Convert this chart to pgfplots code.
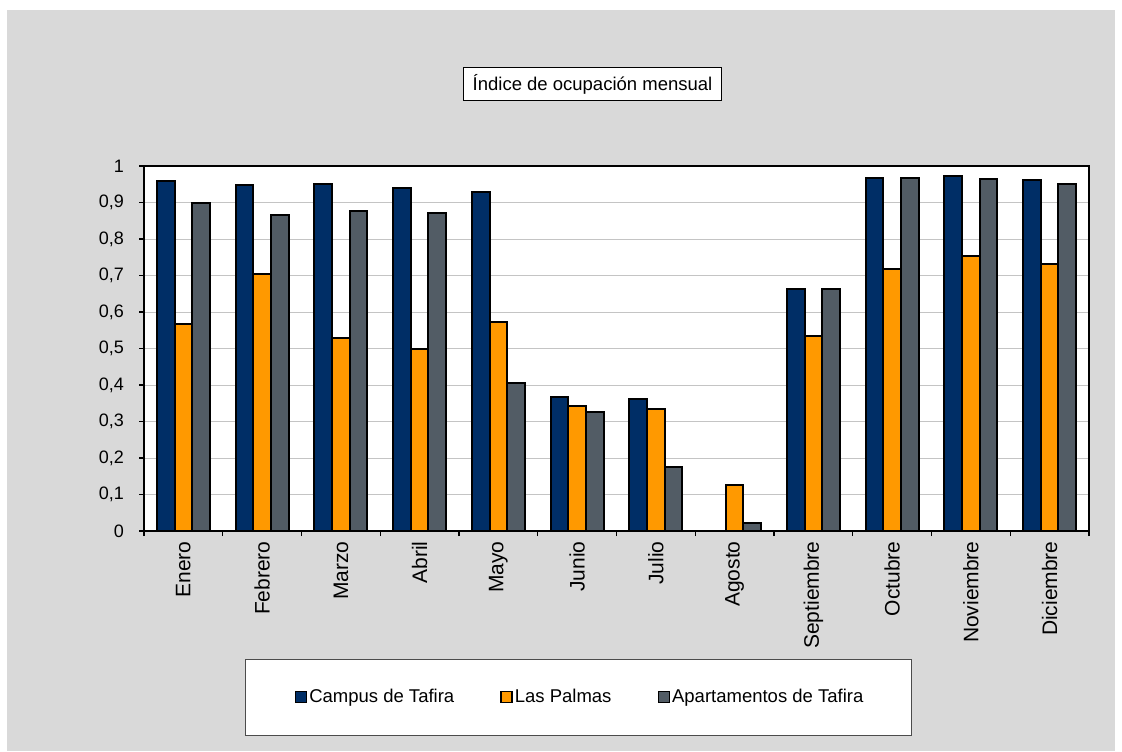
\documentclass[border=0pt]{standalone}
\usepackage{fontspec}
\setmainfont{Liberation Sans}
\usepackage{pgfplots}
\usepackage{pgfplotstable}
\pgfplotsset{compat=1.18}
\definecolor{cBlue}{RGB}{0,46,102}
\definecolor{cOrange}{RGB}{255,153,0}
\definecolor{cGray}{RGB}{82,92,101}
\definecolor{bgGray}{RGB}{217,217,217}
\definecolor{gridGray}{RGB}{196,196,196}
\pgfplotstableread{
idx campus laspalmas apart
0  0.959 0.568 0.898
1  0.948 0.703 0.866
2  0.951 0.528 0.877
3  0.939 0.499 0.872
4  0.928 0.573 0.406
5  0.366 0.342 0.325
6  0.361 0.335 0.175
7  0.000 0.127 0.023
8  0.662 0.535 0.664
9  0.966 0.718 0.966
10 0.973 0.753 0.964
11 0.962 0.731 0.951
}\datatable
\begin{document}
\begin{tikzpicture}[x=1pt,y=1pt]
\fill[white] (0,0) rectangle (561,375.5);
\fill[bgGray] (3.5,0) rectangle (557.5,370.5);
\node[draw=black, line width=0.5pt, fill=white, font=\fontsize{9.25}{11}\selectfont, inner xsep=4.5pt, minimum height=15pt] at (296.25,333.5) {Índice de ocupación mensual};
\filldraw[fill=white, draw=black!70, line width=0.5pt] (122.5,8) rectangle (455.5,46);
\begin{axis}[
  at={(72pt,110pt)}, anchor=south west,
  scale only axis, width=472.5pt, height=182.5pt,
  ybar=0pt, bar width=8.8pt,
  xmin=-0.5, xmax=11.5, ymin=0, ymax=1,
  axis background/.style={fill=white},
  xtick={0,...,11},
  xticklabels={Enero,Febrero,Marzo,Abril,Mayo,Junio,Julio,Agosto,Septiembre,Octubre,Noviembre,Diciembre},
  x tick label style={rotate=90, anchor=east, font=\fontsize{10.5}{12}\selectfont, inner sep=0pt, xshift=-2.5pt},
  xtick style={draw=none},
  extra x ticks={-0.5,0.5,...,11.5},
  extra x tick labels={},
  extra x tick style={xtick style={draw=black, line width=0.6pt}},
  xtick pos=bottom, ytick pos=left,
  ytick={0,0.1,0.2,0.3,0.4,0.5,0.6,0.7,0.8,0.9,1},
  y tick label style={font=\fontsize{9}{10}\selectfont, xshift=-4pt, /pgf/number format/.cd, use comma, fixed, precision=1, assume math mode=true},
  ytick style={draw=black, line width=0.6pt},
  tick align=outside, major tick length=2.5pt,
  ymajorgrids, grid style={color=gridGray, line width=0.5pt},
  axis line style={line width=1.25pt, black},
  legend style={at={(0.4614,-0.4548)}, anchor=center, draw=none, fill=none,
    legend columns=3, font=\fontsize{9.25}{11}\selectfont,
    nodes={inner sep=1pt},
    /tikz/every even column/.append style={column sep=22pt}},
  legend image code/.code={\draw[#1, draw=black, line width=0.8pt] (0pt,-2.75pt) rectangle (5.5pt,2.75pt);},
]
\addplot[fill=cBlue, draw=black, line width=1pt] table[x=idx, y=campus] {\datatable};
\addplot[fill=cOrange, draw=black, line width=1pt] table[x=idx, y=laspalmas] {\datatable};
\addplot[fill=cGray, draw=black, line width=1pt] table[x=idx, y=apart] {\datatable};
\legend{Campus de Tafira, Las Palmas, Apartamentos de Tafira}
\end{axis}
\end{tikzpicture}
\end{document}
